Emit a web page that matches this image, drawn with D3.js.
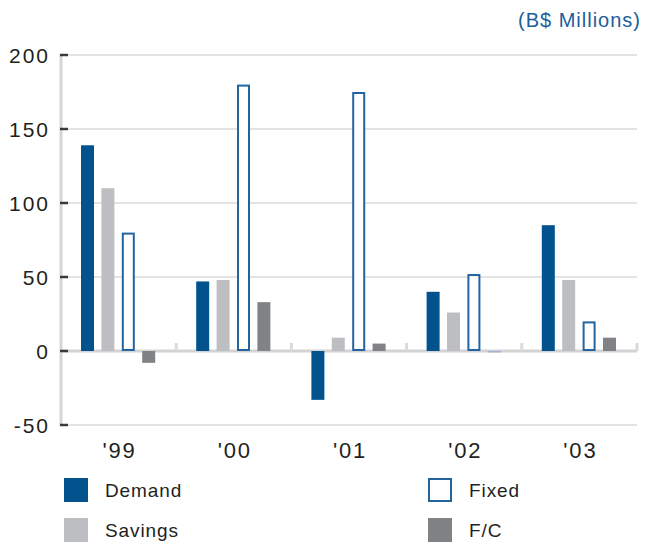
<!DOCTYPE html>
<html>
<head>
<meta charset="utf-8">
<script src="https://cdn.jsdelivr.net/npm/d3@7"></script>
<style>
  html, body { margin: 0; padding: 0; background: #ffffff; }
  svg { display: block; font-family: "Liberation Sans", Arial, sans-serif; }
</style>
</head>
<body>
<svg id="chart" width="655" height="542"></svg>
<script>
// Deposits by type, B$ millions
const years = ["'99", "'00", "'01", "'02", "'03"];
const seriesNames = ["Demand", "Savings", "Fixed", "F/C"];
const demand  = [139, 47, -33, 40, 85];
const savings = [110, 48, 9, 26, 48];
const fixed   = [80, 180, 175, 52, 20];
const fc      = [-8, 33, 5, -1, 9];
const yTicks  = [-50, 0, 50, 100, 150, 200];
const unitLabel = "(B$ Millions)";

const seriesValues = { "Demand": demand, "Savings": savings, "Fixed": fixed, "F/C": fc };
const colors = { "Demand": "#02528d", "Savings": "#bdbec1", "Fixed": "#ffffff", "F/C": "#818285" };
const outlineBlue = "#2264a0";

const svg = d3.select("#chart");
const left = 61, right = 637;

const y = d3.scaleLinear().domain([-50, 200]).range([425, 55]);
const x0 = d3.scaleBand().domain(years).range([left, right]).padding(0);
const x1 = d3.scaleBand().domain(seriesNames).range([20, 94.2]).paddingInner(0.363).paddingOuter(0);

// gridlines
svg.append("g").selectAll("line")
  .data(yTicks.filter(t => t !== 0))
  .join("line")
  .attr("x1", left).attr("x2", right)
  .attr("y1", d => y(d)).attr("y2", d => y(d))
  .attr("stroke", "#e3e3e3").attr("stroke-width", 2);

// vertical axis line
svg.append("line")
  .attr("x1", left).attr("x2", left)
  .attr("y1", y(200) - 1).attr("y2", y(-50) + 1)
  .attr("stroke", "#d5d5d5").attr("stroke-width", 3);

// zero line
svg.append("line")
  .attr("x1", left).attr("x2", right)
  .attr("y1", y(0)).attr("y2", y(0))
  .attr("stroke", "#d3d3d3").attr("stroke-width", 3);

// category separators sitting on the zero line
svg.append("g").selectAll("line")
  .data(years)
  .join("line")
  .attr("x1", d => x0(d) + x0.bandwidth()).attr("x2", d => x0(d) + x0.bandwidth())
  .attr("y1", y(0) - 8).attr("y2", y(0))
  .attr("stroke", "#dadada").attr("stroke-width", 3);

// bars
const rows = years.map((yr, i) => ({ year: yr, values: seriesNames.map(s => ({ key: s, value: seriesValues[s][i] })) }));
const groups = svg.append("g").selectAll("g")
  .data(rows)
  .join("g")
  .attr("transform", d => `translate(${x0(d.year)},0)`);

groups.selectAll("rect")
  .data(d => d.values)
  .join("rect")
  .each(function (d) {
    const r = d3.select(this);
    const top = y(Math.max(0, d.value));
    const h = Math.abs(y(d.value) - y(0));
    if (d.key === "Fixed") {
      r.attr("x", x1(d.key) + 1).attr("width", x1.bandwidth() - 2)
       .attr("y", top + 1).attr("height", Math.max(0, h - 2))
       .attr("fill", "#ffffff").attr("stroke", outlineBlue).attr("stroke-width", 2);
    } else {
      // very small bars hugging the zero line read as a faint blue-grey sliver
      const tiny = Math.abs(d.value) <= 1;
      r.attr("x", x1(d.key)).attr("width", x1.bandwidth())
       .attr("y", top).attr("height", h)
       .attr("fill", tiny ? "#9fb2cf" : colors[d.key]);
    }
  });

// y tick marks and labels
const yAxis = svg.append("g");
yAxis.selectAll("line")
  .data(yTicks)
  .join("line")
  .attr("x1", left - 1).attr("x2", left + 7)
  .attr("y1", d => y(d)).attr("y2", d => y(d))
  .attr("stroke", "#3a3a3a").attr("stroke-width", 2.5);
yAxis.selectAll("text")
  .data(yTicks)
  .join("text")
  .attr("x", 50).attr("y", d => y(d)).attr("dy", "0.36em")
  .attr("text-anchor", "end")
  .attr("font-size", 21).attr("letter-spacing", 2)
  .attr("fill", "#231f20")
  .text(d => d);

// x category labels
svg.append("g").selectAll("text")
  .data(years)
  .join("text")
  .attr("x", d => x0(d) + x0.bandwidth() / 2 + 1)
  .attr("y", 458)
  .attr("text-anchor", "middle")
  .attr("font-size", 22).attr("letter-spacing", 1.8)
  .attr("fill", "#231f20")
  .text(d => d);

// unit label
svg.append("text")
  .attr("x", 641).attr("y", 27)
  .attr("text-anchor", "end")
  .attr("font-size", 20).attr("letter-spacing", 1)
  .attr("fill", "#1b5e9b")
  .text(unitLabel);

// legend
const legendPos = [
  { key: "Demand", x: 64, y: 478 },
  { key: "Fixed", x: 428, y: 478 },
  { key: "Savings", x: 64, y: 518 },
  { key: "F/C", x: 428, y: 518 }
];
const leg = svg.append("g").selectAll("g")
  .data(legendPos)
  .join("g")
  .attr("transform", d => `translate(${d.x},${d.y})`);
leg.append("rect")
  .attr("x", d => d.key === "Fixed" ? 1 : 0)
  .attr("y", d => d.key === "Fixed" ? 1 : 0)
  .attr("width", d => d.key === "Fixed" ? 22 : 24)
  .attr("height", d => d.key === "Fixed" ? 22 : 24)
  .attr("fill", d => colors[d.key])
  .attr("stroke", d => d.key === "Fixed" ? outlineBlue : "none")
  .attr("stroke-width", 2);
leg.append("text")
  .attr("x", 41).attr("y", 19)
  .attr("font-size", 19).attr("letter-spacing", 0.9)
  .attr("fill", "#231f20")
  .text(d => d.key);
</script>
</body>
</html>
